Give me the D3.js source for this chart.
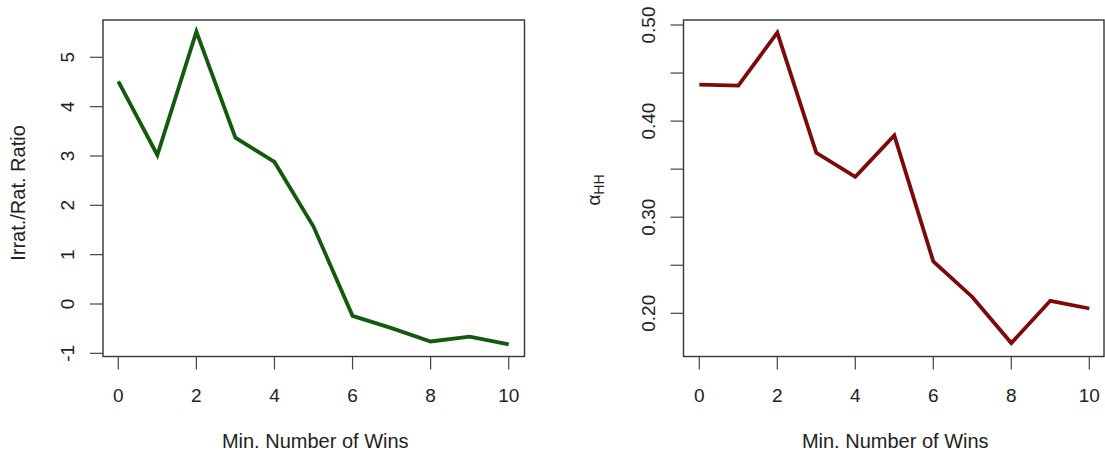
<!DOCTYPE html>
<html>
<head>
<meta charset="utf-8">
<script src="https://cdn.jsdelivr.net/npm/d3@7"></script>
<style>
  body { margin: 0; background: #fff; }
  text { font-family: "Liberation Sans", Arial, sans-serif; fill: #222; }
</style>
</head>
<body>
<script>
  // x values shared by both panels
  var wins = [0, 1, 2, 3, 4, 5, 6, 7, 8, 9, 10];
  var xTicks = [0, 2, 4, 6, 8, 10];

  // left panel: irrational / rational ratio
  var ratio = [4.51, 3.02, 5.52, 3.37, 2.88, 1.57, -0.24, -0.49, -0.76, -0.66, -0.82];
  var ratioTicks = [-1, 0, 1, 2, 3, 4, 5];

  // right panel: alpha_HH
  var alphaHH = [0.438, 0.437, 0.492, 0.367, 0.342, 0.385, 0.254, 0.217, 0.169, 0.213, 0.205];
  var alphaTicks = [0.20, 0.25, 0.30, 0.35, 0.40, 0.45, 0.50];
  var alphaLabels = [0.20, 0.30, 0.40, 0.50];

  var svg = d3.select("body").append("svg")
      .attr("width", 1105)
      .attr("height", 456);

  function panel(opt) {
    var g = svg.append("g");
    var x = d3.scaleLinear().domain([0, 10]).range(opt.xr);
    var y = d3.scaleLinear().domain(opt.yd).range(opt.yr);

    // box
    g.append("rect")
      .attr("x", opt.box[0]).attr("y", opt.box[1])
      .attr("width", opt.box[2] - opt.box[0])
      .attr("height", opt.box[3] - opt.box[1])
      .attr("fill", "none").attr("stroke", "#333").attr("stroke-width", 1.4);

    // x axis ticks
    g.selectAll(".xt").data(xTicks).enter().append("line")
      .attr("x1", d => x(d)).attr("x2", d => x(d))
      .attr("y1", opt.box[3]).attr("y2", opt.box[3] + 13)
      .attr("stroke", "#444").attr("stroke-width", 1.2);
    g.selectAll(".xl").data(xTicks).enter().append("text")
      .attr("x", d => x(d)).attr("y", 402)
      .attr("text-anchor", "middle").attr("font-size", 19)
      .text(d => d);

    // y axis ticks
    g.selectAll(".yt").data(opt.yTicks).enter().append("line")
      .attr("x1", opt.box[0] - 13).attr("x2", opt.box[0])
      .attr("y1", d => y(d)).attr("y2", d => y(d))
      .attr("stroke", "#444").attr("stroke-width", 1.2);
    g.selectAll(".yl").data(opt.yLabels).enter().append("text")
      .attr("transform", d => "translate(" + opt.labX + "," + y(d) + ") rotate(-90)")
      .attr("text-anchor", "middle").attr("font-size", 19)
      .text(opt.fmt);

    // axis titles
    g.append("text")
      .attr("x", (opt.box[0] + opt.box[2]) / 2 + 1.5).attr("y", 448)
      .attr("text-anchor", "middle").attr("font-size", 20)
      .text("Min. Number of Wins");

    // line
    var line = d3.line().x((d, i) => x(wins[i])).y(d => y(d));
    g.append("path").datum(opt.values)
      .attr("d", line)
      .attr("fill", "none")
      .attr("stroke", opt.color)
      .attr("stroke-width", 3.8)
      .attr("stroke-linejoin", "miter")
      .attr("stroke-linecap", "butt");
    return g;
  }

  var left = panel({
    xr: [118.3, 508.7], yd: [0, 5], yr: [304, 57.3],
    box: [103, 20, 524.5, 356.5],
    yTicks: ratioTicks, yLabels: ratioTicks, labX: 74,
    fmt: d => d, values: ratio, color: "#135a0c"
  });
  left.append("text")
    .attr("transform", "translate(25,193) rotate(-90)")
    .attr("text-anchor", "middle").attr("font-size", 20)
    .text("Irrat./Rat. Ratio");

  var right = panel({
    xr: [699.3, 1089.3], yd: [0.2, 0.5], yr: [313.3, 25],
    box: [683.5, 20, 1104, 356.5],
    yTicks: alphaTicks, yLabels: alphaLabels, labX: 655,
    fmt: d => d.toFixed(2), values: alphaHH, color: "#7d0a0a"
  });
  var at = right.append("text")
    .attr("transform", "translate(600,190) rotate(-90)")
    .attr("text-anchor", "middle").attr("font-size", 19);
  at.append("tspan").text("\u03b1");
  at.append("tspan").attr("font-size", 14).attr("dy", 4).text("HH");
</script>
</body>
</html>
